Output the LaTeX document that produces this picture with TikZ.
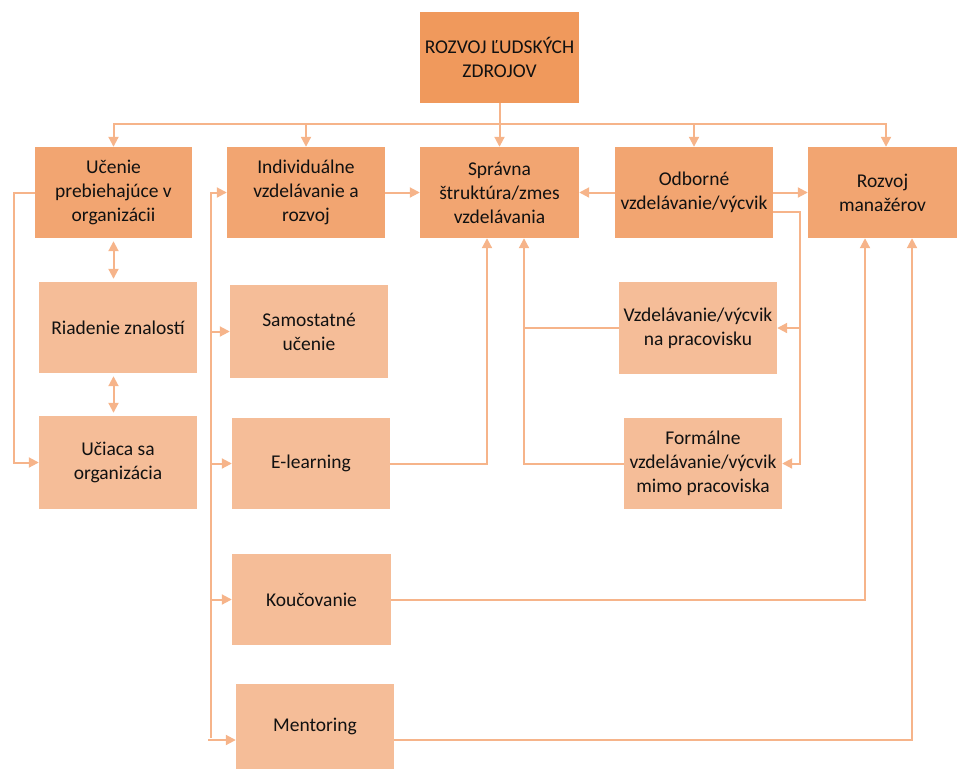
\documentclass[tikz,border=0pt]{standalone}
\usepackage{fontspec}
\setmainfont{Carlito}
\usetikzlibrary{arrows.meta}
\definecolor{topc}{HTML}{F0995C}
\definecolor{rowc}{HTML}{F2A571}
\definecolor{lightc}{HTML}{F5BD98}
\definecolor{linec}{HTML}{F6B48A}
\definecolor{txtc}{HTML}{111111}
\tikzset{
  bx/.style={rectangle, inner sep=1pt, align=center, text=txtc,
    font=\fontsize{19.5}{24}\selectfont, minimum width=158pt, minimum height=91pt},
  topbox/.style={bx, fill=topc},
  rowbox/.style={bx, fill=rowc},
  lightbox/.style={bx, fill=lightc},
  ln/.style={draw=linec, line width=2pt},
  arr/.style={ln, -{Triangle[width=10pt,length=10pt]}},
  darr/.style={ln, {Triangle[width=10pt,length=10pt]}-{Triangle[width=10pt,length=10pt]}, shorten <=3pt, shorten >=3pt}
}
\begin{document}
\begin{tikzpicture}[x=1pt,y=-1pt]
\useasboundingbox (0,0) rectangle (957,769);
% boxes
\node[topbox, minimum width=159pt] (top) at (499.5,57.5) {ROZVOJ ĽUDSKÝCH\\ZDROJOV};
\node[rowbox, minimum width=157pt] (uc) at (113.5,192.5) {Učenie\\prebiehajúce v\\organizácii};
\node[rowbox] (ind) at (306,192.5) {Individuálne\\vzdelávanie a\\rozvoj};
\node[rowbox, minimum width=159pt] (spr) at (499.5,192.5) {Správna\\štruktúra/zmes\\vzdelávania};
\node[rowbox] (odb) at (694,192.5) {Odborné\\vzdelávanie/výcvik};
\node[rowbox, minimum width=149pt] (roz) at (882.5,192.5) {Rozvoj\\manažérov};
\node[lightbox] (ria) at (118,327.5) {Riadenie znalostí};
\node[lightbox, minimum height=93pt] (uci) at (118,462.5) {Učiaca sa\\organizácia};
\node[lightbox, minimum height=93pt] (sam) at (309,331.5) {Samostatné\\učenie};
\node[lightbox] (elr) at (311,463.5) {E-learning};
\node[lightbox, minimum width=159pt] (kou) at (311.5,599.5) {Koučovanie};
\node[lightbox, minimum height=85pt] (men) at (315,726.5) {Mentoring};
\node[lightbox, minimum height=92pt] (vzd) at (698,328) {Vzdelávanie/výcvik\\na pracovisku};
\node[lightbox] (for) at (703,463.5) {Formálne\\vzdelávanie/výcvik\\mimo pracoviska};
% top distribution
\coordinate (bus) at (499.5,124);
\draw[ln] (top.south) -- (bus);
\draw[arr] (bus) -| (uc.north);
\draw[arr] (bus) -| (ind.north);
\draw[arr] (bus) -- (spr.north);
\draw[arr] (bus) -| (odb.north);
\draw[arr] (bus) -| ([xshift=3.5pt]roz.north);
% left column
\draw[darr] (uc.south) -- (uc.south |- ria.north);
\draw[darr] (uc.south |- ria.south) -- (uc.south |- uci.north);
\draw[arr] (uc.west) -- ++(-21,0) |- (uci.west);
% individual learning spine
\coordinate (sp) at (211,192.5);
\coordinate (spb) at (211,738);
\draw[arr] (spb) -- (sp) -- (ind.west);
\draw[arr] (sam.west -| sp) -- (sam.west);
\draw[arr] (elr.west -| sp) -- (elr.west);
\draw[arr] (kou.west -| sp) -- (kou.west);
\draw[arr] ([yshift=-13.5pt]men.west -| 208,0) -- ([yshift=-13.5pt]men.west);
\draw[arr] (ind.east) -- (spr.west);
% into Spravna
\draw[arr] (elr.east) -| ([xshift=-12.5pt]spr.south);
\draw[arr] (vzd.west) -| ([xshift=24.5pt]spr.south);
\draw[ln] (for.west) -| ([xshift=24.5pt]spr.south |- vzd.west);
% Odborne
\draw[arr] (odb.west) -- (spr.east);
\draw[arr] (odb.east) -- (roz.west);
\coordinate (oc) at (800,212);
\draw[arr] ([yshift=-19.5pt]odb.east) -- (oc) |- (for.east);
\draw[arr] (vzd.east -| oc) -- (vzd.east);
% Rozvoj manazerov
\draw[arr] (kou.east) -| ([xshift=-17.5pt]roz.south);
\draw[arr] ([yshift=-13.5pt]men.east) -| ([xshift=29.5pt]roz.south);
\end{tikzpicture}
\end{document}
